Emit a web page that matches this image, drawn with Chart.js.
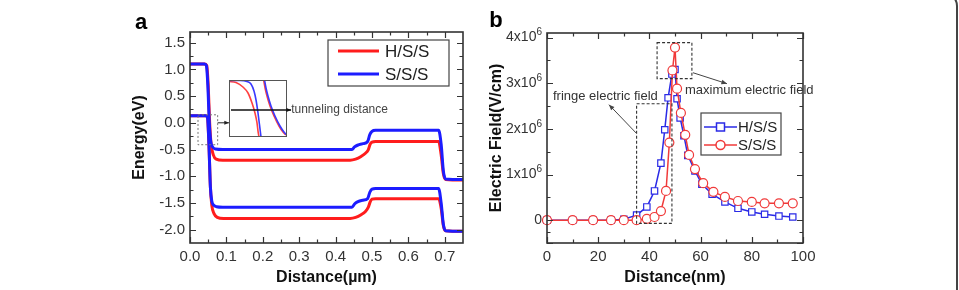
<!DOCTYPE html>
<html>
<head>
<meta charset="utf-8">
<script src="https://cdn.jsdelivr.net/npm/chart.js@4.4.1/dist/chart.umd.min.js"></script>
<style>
  html, body { margin: 0; padding: 0; background: #fff; }
  #wrap { position: relative; width: 959px; height: 290px; overflow: hidden; background: #fff; }
  canvas { position: absolute; }
  #frame { position: absolute; left: -30px; top: -8px; width: 988px; height: 330px;
           border: 2px solid #444; border-radius: 14px; box-sizing: border-box; }
</style>
</head>
<body>
<div id="wrap">
  <canvas id="energy" width="480" height="290" style="left:0;top:0"></canvas>
  <canvas id="inset" width="90" height="70" style="left:220px;top:74px"></canvas>
  <canvas id="field" width="479" height="290" style="left:480px;top:0"></canvas>
  <div id="frame"></div>
</div>
<script>
const FONT = "'Liberation Sans', Arial, Helvetica, sans-serif";
const RED = '#ff1c1c';
const BLUE = '#1c1cff';

// ---- panel a : band diagram (distance in um, energy in eV)
const energyXTicks = [0.0, 0.1, 0.2, 0.3, 0.4, 0.5, 0.6, 0.7];
const energyYTicks = [-2.0, -1.5, -1.0, -0.5, 0.0, 0.5, 1.0, 1.5];

const sssCondX = [0, 0.040, 0.045, 0.049, 0.053, 0.057, 0.062, 0.070, 0.090, 0.445, 0.452, 0.460, 0.475, 0.488, 0.494, 0.500, 0.510, 0.683, 0.690, 0.696, 0.702, 0.750];
const sssCondY = [1.10, 1.10, 1.07, 0.70, 0.00, -0.35, -0.45, -0.49, -0.50, -0.50, -0.45, -0.42, -0.39, -0.35, -0.22, -0.16, -0.14, -0.14, -0.40, -0.90, -1.05, -1.06];
const sssValX  = [0, 0.043, 0.048, 0.052, 0.056, 0.060, 0.065, 0.073, 0.090, 0.445, 0.452, 0.460, 0.475, 0.488, 0.494, 0.500, 0.510, 0.683, 0.690, 0.696, 0.702, 0.750];
const sssValY  = [0.13, 0.13, 0.10, -0.40, -1.20, -1.47, -1.54, -1.57, -1.58, -1.58, -1.52, -1.48, -1.45, -1.42, -1.30, -1.24, -1.23, -1.23, -1.50, -1.90, -2.02, -2.03];
const hssCondX = [0, 0.040, 0.046, 0.050, 0.054, 0.058, 0.064, 0.072, 0.090, 0.440, 0.455, 0.470, 0.482, 0.490, 0.495, 0.500, 0.510, 0.683, 0.690, 0.696, 0.702, 0.750];
const hssCondY = [1.10, 1.10, 1.07, 0.70, 0.00, -0.40, -0.60, -0.68, -0.70, -0.70, -0.68, -0.63, -0.57, -0.50, -0.40, -0.36, -0.35, -0.35, -0.60, -0.95, -1.06, -1.07];
const hssValX  = [0, 0.043, 0.048, 0.052, 0.056, 0.060, 0.066, 0.075, 0.092, 0.440, 0.455, 0.470, 0.482, 0.490, 0.495, 0.500, 0.510, 0.683, 0.690, 0.696, 0.702, 0.750];
const hssValY  = [0.13, 0.13, 0.10, -0.40, -1.20, -1.55, -1.70, -1.77, -1.79, -1.79, -1.77, -1.72, -1.66, -1.58, -1.48, -1.43, -1.42, -1.42, -1.60, -1.92, -2.02, -2.03];

// inset (zoomed, normalised 0..1 both ways)
const insetRed1X  = [0, 0.121, 0.241, 0.328, 0.397, 0.448, 0.483, 0.500, 0.517];
const insetRed1Y  = [0.974, 0.956, 0.877, 0.772, 0.596, 0.421, 0.246, 0.105, 0];
const insetBlue1X = [0, 0.190, 0.310, 0.379, 0.431, 0.466, 0.500, 0.526, 0.552];
const insetBlue1Y = [0.991, 0.991, 0.974, 0.930, 0.807, 0.649, 0.421, 0.211, 0];
const insetBlue2X = [0.612, 0.638, 0.672, 0.724, 0.793, 0.879, 0.948, 1.0];
const insetBlue2Y = [1.0, 0.86, 0.719, 0.544, 0.368, 0.193, 0.088, 0.035];
const insetRed2X  = [0.597, 0.622, 0.655, 0.707, 0.776, 0.862, 0.931, 0.983];
const insetRed2Y  = [1.0, 0.86, 0.719, 0.544, 0.368, 0.193, 0.088, 0.035];

// ---- panel b : electric field (distance in nm, field in 10^6 V/cm)
const fieldXTicks = [0, 20, 40, 60, 80, 100];
const fieldYTicks = [0, 1, 2, 3, 4];

const hssDist  = [0, 10, 18, 25, 30, 35, 39, 42, 44.5, 46, 47.3, 48.8, 50, 50.8, 52, 53.5, 55, 57.8, 60.5, 64.5, 69.5, 74.6, 80, 85, 90.6, 96];
const hssField = [0, 0, 0, 0, 0.02, 0.11, 0.29, 0.64, 1.25, 1.98, 2.68, 3.20, 3.30, 2.66, 2.24, 1.85, 1.42, 1.08, 0.79, 0.57, 0.40, 0.26, 0.18, 0.13, 0.09, 0.07];
const sssDist  = [0, 10, 18, 25, 30, 35, 39, 42, 44.5, 46.5, 47.8, 49, 50, 50.8, 52.3, 54, 55.5, 57.8, 61, 65, 69.5, 74.6, 80, 85, 90.6, 96];
const sssField = [0, 0, 0, 0, 0, 0, 0.03, 0.07, 0.20, 0.64, 1.70, 3.28, 3.78, 2.88, 2.35, 1.87, 1.43, 1.12, 0.81, 0.62, 0.51, 0.42, 0.40, 0.37, 0.37, 0.37];

const pts = (xs, ys) => xs.map((x, i) => ({ x: x, y: ys[i] }));
const mids = arr => arr.slice(1).map((v, i) => (v + arr[i]) / 2);

// inward ticks on all four sides + box frame
function frameAndTicks(chart, xMajor, yMajor) {
  const { ctx, chartArea: a, scales: { x, y } } = chart;
  const xMinor = mids(xMajor), yMinor = mids(yMajor);
  ctx.save();
  ctx.strokeStyle = '#333';
  ctx.lineWidth = 1.2;
  ctx.beginPath();
  const tx = (v, len) => {
    const p = Math.round(x.getPixelForValue(v)) + 0.5;
    ctx.moveTo(p, a.bottom); ctx.lineTo(p, a.bottom - len);
    ctx.moveTo(p, a.top); ctx.lineTo(p, a.top + len);
  };
  const ty = (v, len) => {
    const p = Math.round(y.getPixelForValue(v)) + 0.5;
    ctx.moveTo(a.left, p); ctx.lineTo(a.left + len, p);
    ctx.moveTo(a.right, p); ctx.lineTo(a.right - len, p);
  };
  xMajor.forEach(v => tx(v, 6)); xMinor.forEach(v => tx(v, 3.5));
  yMajor.forEach(v => ty(v, 6)); yMinor.forEach(v => ty(v, 3.5));
  ctx.stroke();
  ctx.lineWidth = 1.6;
  ctx.strokeRect(a.left, a.top, a.right - a.left, a.bottom - a.top);
  ctx.restore();
}

function arrow(ctx, x1, y1, x2, y2, head) {
  const ang = Math.atan2(y2 - y1, x2 - x1);
  ctx.beginPath(); ctx.moveTo(x1, y1); ctx.lineTo(x2, y2); ctx.stroke();
  ctx.beginPath();
  ctx.moveTo(x2, y2);
  ctx.lineTo(x2 - head * Math.cos(ang - 0.4), y2 - head * Math.sin(ang - 0.4));
  ctx.lineTo(x2 - head * Math.cos(ang + 0.4), y2 - head * Math.sin(ang + 0.4));
  ctx.closePath(); ctx.fill();
}

const noGrid = { display: false, drawTicks: false };

const energyDeco = {
  id: 'energyDeco',
  afterDraw(chart) {
    frameAndTicks(chart, energyXTicks, energyYTicks);
    const { ctx, chartArea: a, scales: { x, y } } = chart;
    ctx.save();
    // dotted zoom box
    ctx.strokeStyle = '#777'; ctx.lineWidth = 1; ctx.setLineDash([2, 2]);
    const bx1 = x.getPixelForValue(0.022), bx2 = x.getPixelForValue(0.076);
    const by1 = y.getPixelForValue(0.15), by2 = y.getPixelForValue(-0.41);
    ctx.strokeRect(bx1, by1, bx2 - bx1, by2 - by1);
    ctx.setLineDash([]);
    ctx.strokeStyle = '#222'; ctx.fillStyle = '#222';
    arrow(ctx, bx2, y.getPixelForValue(0.0), x.getPixelForValue(0.107), y.getPixelForValue(0.0), 5);
    ctx.fillStyle = '#444';
    ctx.font = '12px ' + FONT; ctx.textBaseline = 'middle'; ctx.textAlign = 'left';
    ctx.fillText('tunneling distance', x.getPixelForValue(0.278), y.getPixelForValue(0.243));
    // legend
    const lx = a.left + 138, ly = a.top + 8, lw = 121, lh = 46;
    ctx.strokeStyle = '#444'; ctx.lineWidth = 1.2;
    ctx.strokeRect(lx, ly, lw, lh);
    ctx.lineWidth = 3;
    [[RED, 'H/S/S', 11], [BLUE, 'S/S/S', 34]].forEach(([c, t, dy]) => {
      ctx.strokeStyle = c;
      ctx.beginPath(); ctx.moveTo(lx + 10, ly + dy); ctx.lineTo(lx + 51, ly + dy); ctx.stroke();
      ctx.fillStyle = '#222'; ctx.font = '17px ' + FONT;
      ctx.fillText(t, lx + 57, ly + dy + 1);
    });
    // panel letter
    ctx.fillStyle = '#000'; ctx.font = 'bold 22px ' + FONT; ctx.textAlign = 'center'; ctx.textBaseline = 'alphabetic';
    ctx.fillText('a', 141, 29);
    ctx.restore();
  }
};

new Chart(document.getElementById('energy'), {
  type: 'line',
  data: {
    datasets: [
      { label: 'S/S/S', data: pts(sssCondX, sssCondY), borderColor: BLUE, order: 1 },
      { label: 'S/S/S', data: pts(sssValX, sssValY), borderColor: BLUE, order: 1 },
      { label: 'H/S/S', data: pts(hssCondX, hssCondY), borderColor: RED, order: 2 },
      { label: 'H/S/S', data: pts(hssValX, hssValY), borderColor: RED, order: 2 }
    ]
  },
  options: {
    responsive: false,
    animation: false,
    elements: { line: { borderWidth: 3, cubicInterpolationMode: 'monotone' }, point: { radius: 0 } },
    layout: { padding: { left: 119, top: 32, right: 17, bottom: 0 } },
    plugins: { legend: { display: false }, tooltip: { enabled: false } },
    scales: {
      x: {
        type: 'linear', min: 0, max: 0.75,
        grid: noGrid, border: { display: false },
        afterBuildTicks: s => { s.ticks = energyXTicks.map(v => ({ value: v })); },
        afterFit: s => { s.height = 47; },
        ticks: { font: { family: FONT, size: 15 }, color: '#333', padding: 5, maxRotation: 0, autoSkip: false,
                 callback: v => v.toFixed(1) },
        title: { display: true, text: 'Distance(µm)', color: '#111',
                 font: { family: FONT, size: 16, weight: 'bold' }, padding: { top: 0, bottom: 3 } }
      },
      y: {
        type: 'linear', min: -2.25, max: 1.7,
        grid: noGrid, border: { display: false },
        afterBuildTicks: s => { s.ticks = energyYTicks.map(v => ({ value: v })); },
        afterFit: s => { s.width = 71; },
        ticks: { font: { family: FONT, size: 15 }, color: '#333', padding: 5, autoSkip: false,
                 callback: v => v.toFixed(1) },
        title: { display: true, text: 'Energy(eV)', color: '#111',
                 font: { family: FONT, size: 16, weight: 'bold' }, padding: { top: 11, bottom: 0 } }
      }
    }
  },
  plugins: [energyDeco]
});

// ---- inset
const insetDeco = {
  id: 'insetDeco',
  afterDraw(chart) {
    const { ctx, chartArea: a, scales: { x, y } } = chart;
    ctx.save();
    ctx.strokeStyle = '#555'; ctx.lineWidth = 1;
    ctx.strokeRect(a.left + 0.5, a.top + 0.5, a.right - a.left - 1, a.bottom - a.top - 1);
    ctx.strokeStyle = '#111'; ctx.fillStyle = '#111'; ctx.lineWidth = 1.3;
    arrow(ctx, x.getPixelForValue(0.034), y.getPixelForValue(0.474), x.getPixelForValue(1.07), y.getPixelForValue(0.474), 5);
    ctx.restore();
  }
};

new Chart(document.getElementById('inset'), {
  type: 'line',
  data: {
    datasets: [
      { data: pts(insetBlue2X, insetBlue2Y), borderColor: '#3a3aff', order: 1 },
      { data: pts(insetRed2X, insetRed2Y), borderColor: '#ff4040', order: 2 },
      { data: pts(insetBlue1X, insetBlue1Y), borderColor: '#3a3aff', order: 3 },
      { data: pts(insetRed1X, insetRed1Y), borderColor: '#ff4040', order: 4 }
    ]
  },
  options: {
    responsive: false,
    animation: false,
    elements: { line: { borderWidth: 1.6, cubicInterpolationMode: 'monotone' }, point: { radius: 0 } },
    layout: { padding: { left: 9, top: 6, right: 23, bottom: 7 } },
    plugins: { legend: { display: false }, tooltip: { enabled: false } },
    scales: {
      x: { type: 'linear', display: false, min: 0, max: 1 },
      y: { type: 'linear', display: false, min: 0, max: 1 }
    }
  },
  plugins: [insetDeco]
});

// ---- panel b
const BLUE_B = '#2a2ae6';
const RED_B = '#f03a3a';

const fieldDeco = {
  id: 'fieldDeco',
  afterDraw(chart) {
    frameAndTicks(chart, fieldXTicks, [-0.5].concat(fieldYTicks));
    const { ctx, chartArea: a, scales: { x, y } } = chart;
    ctx.save();
    // y tick labels with a raised exponent
    ctx.fillStyle = '#333'; ctx.textBaseline = 'middle'; ctx.textAlign = 'right';
    y.ticks.forEach(t => {
      const py = y.getPixelForValue(t.value);
      if (t.value === 0) {
        ctx.font = '14px ' + FONT;
        ctx.fillText('0', a.left - 5, py);
        return;
      }
      ctx.font = '10px ' + FONT;
      ctx.fillText('6', a.left - 5, py - 5);
      const w = ctx.measureText('6').width;
      ctx.font = '14px ' + FONT;
      ctx.fillText(t.value + 'x10', a.left - 5 - w, py);
    });
    ctx.strokeStyle = '#333'; ctx.lineWidth = 1.1; ctx.setLineDash([3, 2]);
    const r1 = [x.getPixelForValue(35), y.getPixelForValue(2.55), x.getPixelForValue(48.8), y.getPixelForValue(-0.07)];
    ctx.strokeRect(r1[0], r1[1], r1[2] - r1[0], r1[3] - r1[1]);
    const r2 = [x.getPixelForValue(43), y.getPixelForValue(3.89), x.getPixelForValue(56.6), y.getPixelForValue(3.1)];
    ctx.strokeRect(r2[0], r2[1], r2[2] - r2[0], r2[3] - r2[1]);
    ctx.setLineDash([]);
    ctx.strokeStyle = '#444'; ctx.fillStyle = '#444'; ctx.lineWidth = 1;
    arrow(ctx, x.getPixelForValue(34.8), y.getPixelForValue(1.91), x.getPixelForValue(24.2), y.getPixelForValue(2.53), 6);
    arrow(ctx, x.getPixelForValue(57), y.getPixelForValue(3.23), x.getPixelForValue(70.3), y.getPixelForValue(2.99), 6);
    ctx.fillStyle = '#333'; ctx.font = '13px ' + FONT; ctx.textBaseline = 'middle'; ctx.textAlign = 'center';
    ctx.fillText('fringe electric field', x.getPixelForValue(22.8), y.getPixelForValue(2.72));
    ctx.textAlign = 'left';
    ctx.fillText('maximum electric field', x.getPixelForValue(53.9), y.getPixelForValue(2.84));
    // legend
    const lx = a.left + 154, ly = a.top + 80, lw = 80, lh = 42;
    ctx.strokeStyle = '#444'; ctx.lineWidth = 1.2;
    ctx.strokeRect(lx, ly, lw, lh);
    [[BLUE_B, 'H/S/S', 14, 'rect'], [RED_B, 'S/S/S', 32, 'circle']].forEach(([c, t, dy, shape]) => {
      const yy = ly + dy;
      ctx.strokeStyle = c; ctx.lineWidth = 1.5;
      ctx.beginPath(); ctx.moveTo(lx + 3, yy); ctx.lineTo(lx + 36, yy); ctx.stroke();
      ctx.fillStyle = '#fff';
      ctx.beginPath();
      if (shape === 'rect') ctx.rect(lx + 15.5, yy - 4, 8, 8); else ctx.arc(lx + 19.5, yy, 4.5, 0, Math.PI * 2);
      ctx.fill(); ctx.stroke();
      ctx.fillStyle = '#222'; ctx.font = '15px ' + FONT;
      ctx.fillText(t, lx + 37, yy + 1);
    });
    ctx.fillStyle = '#000'; ctx.font = 'bold 22px ' + FONT; ctx.textAlign = 'center'; ctx.textBaseline = 'alphabetic';
    ctx.fillText('b', 16, 27);
    ctx.restore();
  }
};

new Chart(document.getElementById('field'), {
  type: 'line',
  data: {
    datasets: [
      { label: 'S/S/S', data: pts(sssDist, sssField), borderColor: RED_B, pointStyle: 'circle',
        pointRadius: 4.5, order: 1 },
      { label: 'H/S/S', data: pts(hssDist, hssField), borderColor: BLUE_B, pointStyle: 'rect',
        pointRadius: 4.5, order: 2 }
    ]
  },
  options: {
    responsive: false,
    animation: false,
    elements: {
      line: { borderWidth: 1.5, tension: 0 },
      point: { backgroundColor: '#fff', borderWidth: 1.2 }
    },
    datasets: { line: { clip: false } },
    layout: { padding: { left: 5, top: 33, right: 156, bottom: 0 } },
    plugins: { legend: { display: false }, tooltip: { enabled: false } },
    scales: {
      x: {
        type: 'linear', min: 0, max: 100,
        grid: noGrid, border: { display: false },
        afterBuildTicks: s => { s.ticks = fieldXTicks.map(v => ({ value: v })); },
        afterFit: s => { s.height = 47; },
        ticks: { font: { family: FONT, size: 15 }, color: '#333', padding: 5, maxRotation: 0, autoSkip: false },
        title: { display: true, text: 'Distance(nm)', color: '#111',
                 font: { family: FONT, size: 16, weight: 'bold' }, padding: { top: 0, bottom: 3 } }
      },
      y: {
        type: 'linear', min: -0.5, max: 4.1,
        grid: noGrid, border: { display: false },
        afterBuildTicks: s => { s.ticks = fieldYTicks.map(v => ({ value: v })); },
        afterFit: s => { s.width = 62; },
        ticks: { display: false },
        title: { display: true, text: 'Electric Field(V/cm)', color: '#111',
                 font: { family: FONT, size: 16, weight: 'bold' }, padding: { top: 2, bottom: 0 } }
      }
    }
  },
  plugins: [fieldDeco]
});
</script>
</body>
</html>
